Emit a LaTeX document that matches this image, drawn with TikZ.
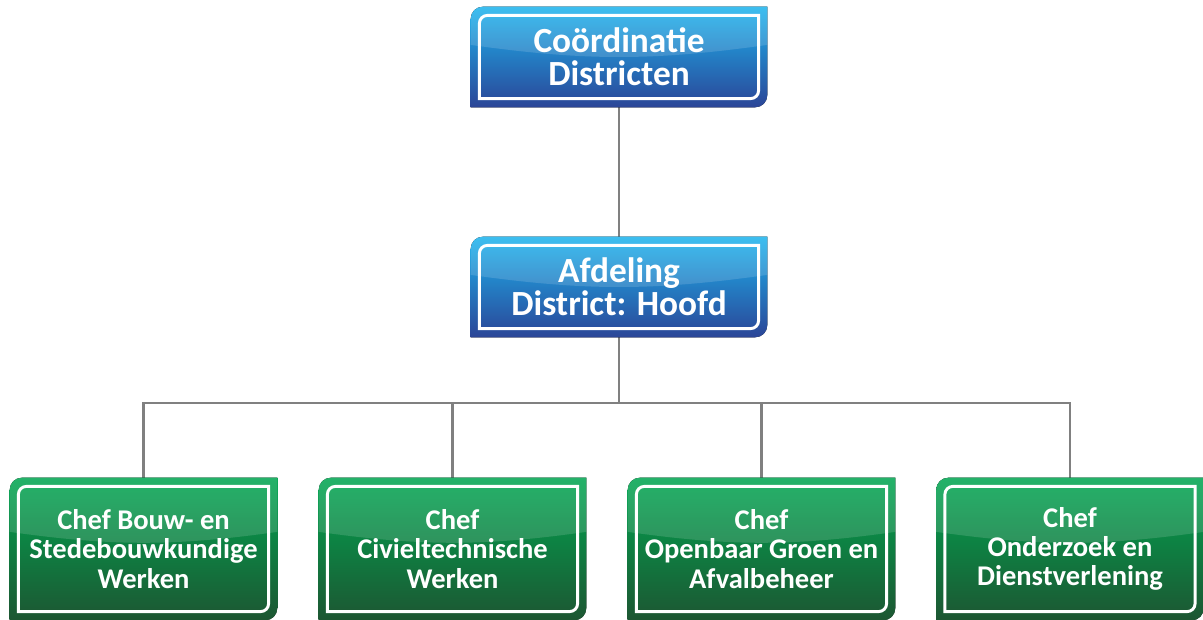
\documentclass[tikz,border=0pt]{standalone}
\usepackage{fontspec}
\setmainfont{Carlito}
\usetikzlibrary{calc,backgrounds}
\definecolor{bluetop}{HTML}{1DB4EE}
\definecolor{bluemid}{HTML}{2A80CF}
\definecolor{bluebot}{HTML}{2B4597}
\definecolor{greentop}{HTML}{00A651}
\definecolor{greenmid}{HTML}{0E8444}
\definecolor{greenbot}{HTML}{1D5632}
\definecolor{linegray}{HTML}{808080}
\tikzset{
  orgnode/.style={rectangle, draw=none, inner sep=0pt, text=white, align=center},
  bluenode/.style={orgnode, minimum width=222pt, minimum height=75pt, font=\fontsize{26.5}{25}\selectfont\bfseries},
  greennode/.style={orgnode, minimum width=200.25pt, minimum height=106.5pt, font=\fontsize{21.4}{22}\selectfont\bfseries},
  conn/.style={draw=linegray, line width=2pt},
}
\newcommand\boxbody[4]{%
  \fill[top color=#2, middle color=#3, bottom color=#4]
    ($(#1.north west)+(0,-9pt)$) arc[start angle=180,end angle=90,radius=9pt]
    -- (#1.north east) -- ($(#1.south east)+(0,9pt)$)
    arc[start angle=0,end angle=-90,radius=9pt] -- (#1.south west) -- cycle;
  \fill[white, opacity=0.14]
    ($(#1.north west)+(0,-9pt)$) arc[start angle=180,end angle=90,radius=9pt]
    -- (#1.north east) -- ($(#1.north east)!0.38!(#1.south east)$)
    to[bend left=8] ($(#1.north west)!0.38!(#1.south west)$) -- cycle;
  \draw[white, line width=2.2pt]
    ($(#1.north west)+(6.5pt,-12.5pt)$) arc[start angle=180,end angle=90,radius=6pt]
    -- ($(#1.north east)+(-6.5pt,-6.5pt)$) -- ($(#1.south east)+(-6.5pt,12.5pt)$)
    arc[start angle=0,end angle=-90,radius=6pt] -- ($(#1.south west)+(6.5pt,6.5pt)$) -- cycle;
}
\begin{document}
\begin{tikzpicture}[x=0.75pt,y=0.75pt]
\useasboundingbox (0,0) rectangle (1203,620);
\node[bluenode] (coord) at (619,563) {Coördinatie\\Districten};
\node[bluenode] (afd) at (619,333) {Afdeling\\District: Hoofd};
\node[greennode] (g1) at (143.5,71) {Chef Bouw- en\\Stedebouwkundige\\Werken};
\node[greennode] (g2) at (452.5,71) {Chef\\Civieltechnische\\Werken};
\node[greennode] (g3) at (761.5,71) {Chef\\Openbaar Groen en\\Afvalbeheer};
\node[greennode] (g4) at (1070,71) {Chef\\Onderzoek en\\Dienstverlening};
\coordinate (bus) at (619,217);
\begin{scope}[on background layer]
  \draw[conn] (coord.south) -- (afd.north);
  \draw[conn] (afd.south) -- (bus);
  \draw[conn] (g1.north) |- (bus);
  \draw[conn] (g2.north) |- (bus);
  \draw[conn] (g3.north) |- (bus);
  \draw[conn] (g4.north) |- (bus);
  \boxbody{coord}{bluetop}{bluemid}{bluebot}
  \boxbody{afd}{bluetop}{bluemid}{bluebot}
  \boxbody{g1}{greentop}{greenmid}{greenbot}
  \boxbody{g2}{greentop}{greenmid}{greenbot}
  \boxbody{g3}{greentop}{greenmid}{greenbot}
  \boxbody{g4}{greentop}{greenmid}{greenbot}
\end{scope}
\end{tikzpicture}
\end{document}
